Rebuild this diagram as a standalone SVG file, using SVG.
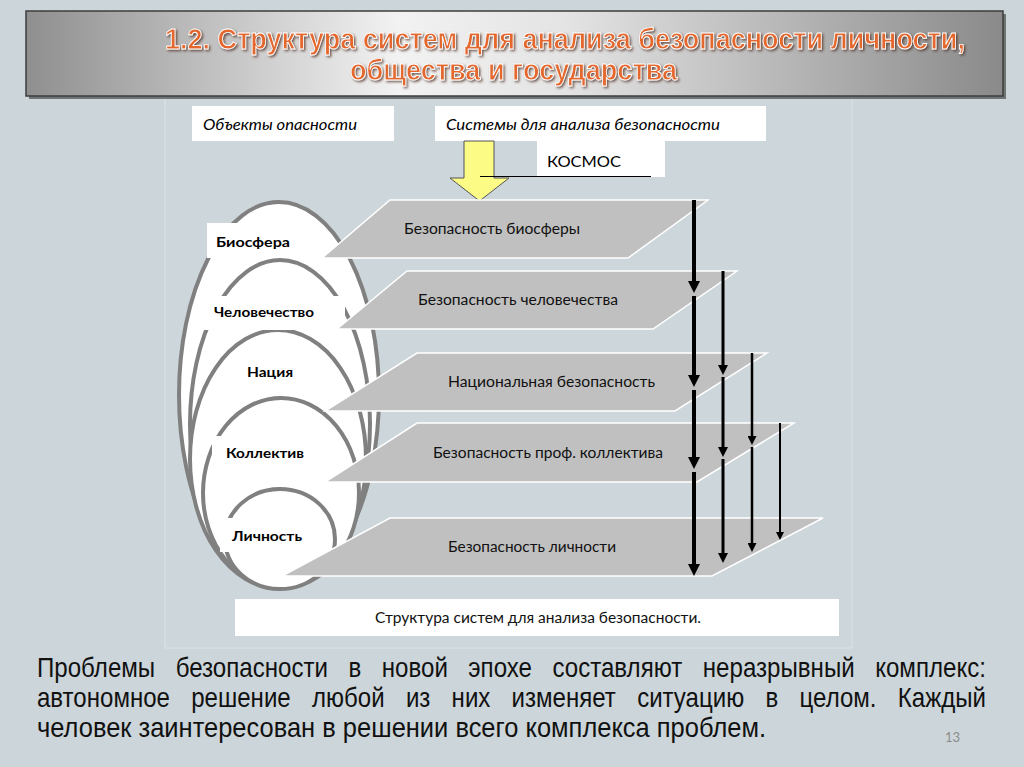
<svg xmlns="http://www.w3.org/2000/svg" width="1024" height="767" viewBox="0 0 1024 767">
<defs>
<linearGradient id="barGrad" x1="0" y1="0" x2="1" y2="0">
<stop offset="0" stop-color="#8f8f8f"/>
<stop offset="0.38" stop-color="#f2f2f2"/>
<stop offset="0.55" stop-color="#e4e4e4"/>
<stop offset="1" stop-color="#8a8a8a"/>
</linearGradient>
<filter id="tshadow" x="-5%" y="-30%" width="110%" height="160%">
<feDropShadow dx="1.5" dy="1.5" stdDeviation="0.8" flood-color="#4a2a1a" flood-opacity="0.75"/>
</filter>
<marker id="h1" markerUnits="userSpaceOnUse" viewBox="0 0 12 12" markerWidth="12" markerHeight="12" refX="1" refY="6" orient="auto"><path d="M0,0 L12,6 L0,12 z" fill="#000"/></marker>
<marker id="h2" markerUnits="userSpaceOnUse" viewBox="0 0 10 10" markerWidth="10" markerHeight="10" refX="1" refY="5" orient="auto"><path d="M0,0 L10,5 L0,10 z" fill="#000"/></marker>
<marker id="h3" markerUnits="userSpaceOnUse" viewBox="0 0 9 9" markerWidth="9" markerHeight="9" refX="1" refY="4.5" orient="auto"><path d="M0,0 L9,4.5 L0,9 z" fill="#000"/></marker>
<marker id="h4" markerUnits="userSpaceOnUse" viewBox="0 0 8 8" markerWidth="8" markerHeight="8" refX="1" refY="4" orient="auto"><path d="M0,0 L8,4 L0,8 z" fill="#000"/></marker>
</defs>
<style>
.ell{fill:#fff;stroke:#808080;stroke-width:4}
.plane{fill:#c0c0c0;stroke:#fff;stroke-width:1.5}
.lbl{font-family:Lato,"Open Sans",sans-serif;font-weight:bold;font-size:14px;fill:#000}
.pt{font-family:Lato,"Open Sans",sans-serif;font-size:14.5px;fill:#111}
.hdr{font-family:Lato,"Open Sans",sans-serif;font-style:italic;font-size:14.5px;fill:#000}
.body{font-family:"Liberation Sans",Arial,sans-serif;font-size:28px;fill:#111}
.ttl{font-family:"Liberation Sans",Arial,sans-serif;font-weight:bold;font-size:30px;fill:#e4672d;stroke:#fff;stroke-width:0.9}
.box{fill:#fff}
</style>
<rect x="0" y="0" width="1024" height="767" fill="#ccd5d9"/>
<rect x="165" y="95" width="687" height="553" fill="#cdd6da" stroke="#dce3e6" stroke-width="1"/>

<g id="title">
<rect x="29" y="14" width="977" height="85" fill="#4a4a4a" opacity="0.7"/>
<rect x="26" y="11" width="977" height="85" fill="url(#barGrad)" stroke="#3c3c3c" stroke-width="1.5"/>
<g class="ttl" filter="url(#tshadow)">
<text x="165" y="49" textLength="800" lengthAdjust="spacingAndGlyphs">1.2. Структура систем для анализа безопасности личности,</text>
<text x="350" y="80" textLength="327" lengthAdjust="spacingAndGlyphs">общества и государства</text>
</g>
</g>

<g id="hdr-objects">
<rect class="box" x="192" y="106" width="202" height="35"/>
<text class="hdr" x="203" y="130" textLength="154" lengthAdjust="spacingAndGlyphs">Объекты опасности</text>
</g>
<g id="hdr-systems">
<rect class="box" x="435" y="106" width="331" height="35"/>
<text class="hdr" x="446" y="130" textLength="274" lengthAdjust="spacingAndGlyphs">Системы для анализа безопасности</text>
</g>
<g id="kosmos">
<rect class="box" x="537" y="141" width="128" height="36"/>
<text x="547" y="167" font-family="Lato,'Open Sans',sans-serif" font-size="16" textLength="74" lengthAdjust="spacingAndGlyphs">КОСМОС</text>
</g>
<g id="yellow-arrow">
<polygon points="464,141 494,141 494,178 509,178 479.5,201 450,178 464,178" fill="#fbfb86" stroke="#555" stroke-width="1"/>
<line x1="480" y1="176.5" x2="651" y2="176.5" stroke="#000" stroke-width="1.2"/>
</g>

<g id="objects">
<ellipse class="ell" cx="279" cy="395" rx="100" ry="193"/>
<ellipse class="ell" cx="280" cy="424" rx="90" ry="164"/>
<ellipse class="ell" cx="278" cy="459" rx="88" ry="129"/>
<ellipse class="ell" cx="281" cy="493" rx="78" ry="95"/>
<ellipse class="ell" cx="280" cy="539" rx="55" ry="50" stroke-width="7"/>
</g>
<g id="obj-biosphere">
<rect class="box" x="207" y="223" width="114" height="35"/>
<text class="lbl" x="216" y="247" textLength="74" lengthAdjust="spacingAndGlyphs">Биосфера</text>
</g>
<g id="obj-humanity">
<rect class="box" x="203" y="296" width="142" height="34"/>
<text class="lbl" x="214" y="317" textLength="100" lengthAdjust="spacingAndGlyphs">Человечество</text>
</g>
<g id="obj-nation">
<text class="lbl" x="247" y="377" textLength="46" lengthAdjust="spacingAndGlyphs">Нация</text>
</g>
<g id="obj-collective">
<rect class="box" x="212" y="436" width="128" height="34"/>
<text class="lbl" x="226" y="458" textLength="78" lengthAdjust="spacingAndGlyphs">Коллектив</text>
</g>
<g id="obj-person">
<rect class="box" x="220" y="518" width="98" height="34"/>
<text class="lbl" x="232" y="541" textLength="70" lengthAdjust="spacingAndGlyphs">Личность</text>
</g>

<g id="sys-biosphere">
<polygon class="plane" points="390,200 708,200 628,258 322,258"/>
<text class="pt" x="404" y="234" textLength="176" lengthAdjust="spacingAndGlyphs">Безопасность биосферы</text>
</g>
<g id="sys-humanity">
<polygon class="plane" points="407,271 737,271 653,329 337,329"/>
<text class="pt" x="418" y="305" textLength="200" lengthAdjust="spacingAndGlyphs">Безопасность человечества</text>
</g>
<g id="sys-nation">
<polygon class="plane" points="417,353 767,353 675,411 325,411"/>
<text class="pt" x="448" y="387" textLength="207" lengthAdjust="spacingAndGlyphs">Национальная безопасность</text>
</g>
<g id="sys-collective">
<polygon class="plane" points="417,423 794,423 697,482 325,482"/>
<text class="pt" x="433" y="458" textLength="230" lengthAdjust="spacingAndGlyphs">Безопасность проф. коллектива</text>
</g>
<g id="sys-person">
<polygon class="plane" points="390,518 823,518 712,576 282,576"/>
<text class="pt" x="448" y="552" textLength="168" lengthAdjust="spacingAndGlyphs">Безопасность личности</text>
</g>

<g id="connectors" stroke="#000">
<line x1="694" y1="200" x2="694" y2="282" stroke-width="4" marker-end="url(#h1)"/>
<line x1="694" y1="296" x2="694" y2="376" stroke-width="4" marker-end="url(#h1)"/>
<line x1="694" y1="390" x2="694" y2="458" stroke-width="4" marker-end="url(#h1)"/>
<line x1="694" y1="472" x2="694" y2="565" stroke-width="4" marker-end="url(#h1)"/>
<line x1="723" y1="271" x2="723" y2="366" stroke-width="3" marker-end="url(#h2)"/>
<line x1="723" y1="377" x2="723" y2="448" stroke-width="3" marker-end="url(#h2)"/>
<line x1="723" y1="459" x2="723" y2="554" stroke-width="3" marker-end="url(#h2)"/>
<line x1="752" y1="353" x2="752" y2="437" stroke-width="2.5" marker-end="url(#h3)"/>
<line x1="752" y1="447" x2="752" y2="544" stroke-width="2.5" marker-end="url(#h3)"/>
<line x1="780" y1="423" x2="780" y2="533" stroke-width="2" marker-end="url(#h4)"/>
</g>

<g id="caption">
<rect class="box" x="235" y="599" width="604" height="37"/>
<text class="pt" x="375" y="623" textLength="326" lengthAdjust="spacingAndGlyphs">Структура систем для анализа безопасности.</text>
</g>

<g id="paragraph" class="body">
<text x="37" y="677" word-spacing="16" textLength="949" lengthAdjust="spacingAndGlyphs">Проблемы безопасности в новой эпохе составляют неразрывный комплекс:</text>
<text x="37" y="707" word-spacing="17" textLength="949" lengthAdjust="spacingAndGlyphs">автономное решение любой из них изменяет ситуацию в целом. Каждый</text>
<text x="37" y="737" textLength="729" lengthAdjust="spacingAndGlyphs">человек заинтересован в решении всего комплекса проблем.</text>
</g>
<text x="945" y="742" font-family="Lato,'Open Sans',sans-serif" font-size="13" fill="#8c8c8c">13</text>
</svg>
